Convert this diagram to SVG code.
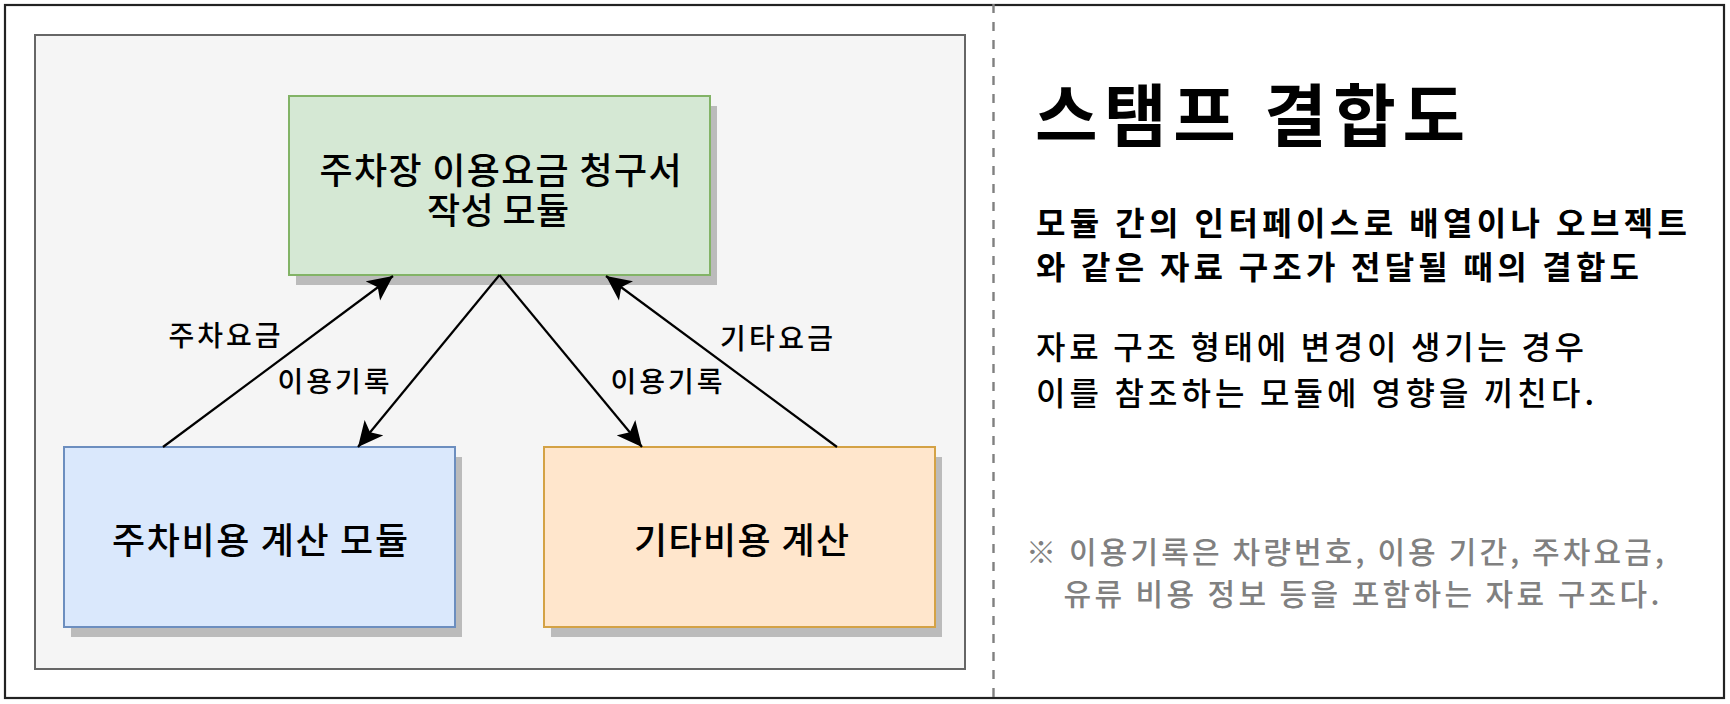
<svg xmlns="http://www.w3.org/2000/svg" width="1730" height="704" viewBox="0 0 1730 704">
  <style>
    .t { font-family: "Noto Sans CJK KR", "Noto Sans", sans-serif; fill: #000; font-weight: 500; }
    .node { font-size: 36px; }
    .lbl { font-size: 28px; }
    .shadow { fill: #bbbbbb; }
    .edge { stroke: #000; stroke-width: 2.2; fill: none; marker-end: url(#arr); }
    .note { fill: #808080; }
  </style>
  <defs>
    <marker id="arr" markerUnits="userSpaceOnUse" markerWidth="25" markerHeight="25" viewBox="0 0 25 25" refX="25" refY="12.5" orient="auto">
      <path d="M0,0.5 L25,12.5 L0,24.5 L6,12.5 Z" fill="#000"/>
    </marker>
  </defs>

  <rect x="0" y="0" width="1730" height="704" fill="#ffffff"/>
  <g id="frame">
    <rect x="5" y="5" width="1719" height="693" fill="#ffffff" stroke="#222222" stroke-width="2.2"/>
    <line x1="993.5" y1="4" x2="993.5" y2="697" stroke="#808080" stroke-width="2.4" stroke-dasharray="9 9"/>
  </g>

  <g id="container">
    <rect x="35" y="35" width="930" height="634" fill="#f5f5f5" stroke="#666666" stroke-width="2"/>
  </g>

  <g id="node-main">
    <rect class="shadow" x="296" y="106" width="421" height="179"/>
    <rect x="289" y="96" width="421" height="179" fill="#d5e8d4" stroke="#82b366" stroke-width="2"/>
    <text class="t node"><tspan x="319.5" y="184" textLength="362" lengthAdjust="spacing">주차장 이용요금 청구서</tspan><tspan x="427" y="224" textLength="142" lengthAdjust="spacing">작성 모듈</tspan></text>
  </g>

  <g id="node-parking">
    <rect class="shadow" x="71" y="457" width="391" height="180"/>
    <rect x="64" y="447" width="391" height="180" fill="#dae8fc" stroke="#6c8ebf" stroke-width="2"/>
    <text class="t node" x="112" y="554" textLength="296" lengthAdjust="spacing">주차비용 계산 모듈</text>
  </g>

  <g id="node-other">
    <rect class="shadow" x="551" y="457" width="391" height="180"/>
    <rect x="544" y="447" width="391" height="180" fill="#ffe6cc" stroke="#d4a245" stroke-width="2"/>
    <text class="t node" x="634" y="554" textLength="215" lengthAdjust="spacing">기타비용 계산</text>
  </g>

  <g id="connectors">
    <line class="edge" x1="163" y1="447" x2="393" y2="276"/>
    <line class="edge" x1="499.5" y1="275" x2="358" y2="447"/>
    <line class="edge" x1="499.5" y1="275" x2="642" y2="447"/>
    <line class="edge" x1="837" y1="447" x2="606" y2="276"/>
    <text class="t lbl" x="168.5" y="346" textLength="112" lengthAdjust="spacing">주차요금</text>
    <text class="t lbl" x="277.5" y="392" textLength="112" lengthAdjust="spacing">이용기록</text>
    <text class="t lbl" x="610.5" y="392" textLength="112" lengthAdjust="spacing">이용기록</text>
    <text class="t lbl" x="720" y="349" textLength="113" lengthAdjust="spacing">기타요금</text>
  </g>

  <g id="description">
    <text class="t" x="1035" y="141" font-size="68" font-weight="bold" style="font-weight:bold" textLength="430" lengthAdjust="spacing">스탬프 결합도</text>
    <text class="t" font-size="32" style="font-weight:bold"><tspan x="1036" y="235" textLength="651" lengthAdjust="spacing">모듈 간의 인터페이스로 배열이나 오브젝트</tspan><tspan x="1036" y="279" textLength="603" lengthAdjust="spacing">와 같은 자료 구조가 전달될 때의 결합도</tspan></text>
    <text class="t" font-size="32"><tspan x="1036" y="359" textLength="548" lengthAdjust="spacing">자료 구조 형태에 변경이 생기는 경우</tspan><tspan x="1036" y="405" textLength="558" lengthAdjust="spacing">이를 참조하는 모듈에 영향을 끼친다.</tspan></text>
    <text class="t note" font-size="30"><tspan x="1026" y="563" textLength="638" lengthAdjust="spacing">※ 이용기록은 차량번호, 이용 기간, 주차요금,</tspan><tspan x="1063.5" y="605" textLength="596" lengthAdjust="spacing">유류 비용 정보 등을 포함하는 자료 구조다.</tspan></text>
  </g>
</svg>
